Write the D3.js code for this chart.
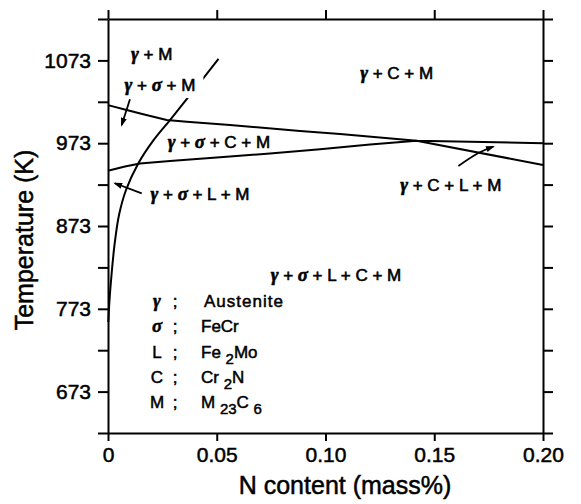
<!DOCTYPE html>
<html>
<head>
<meta charset="utf-8">
<script src="https://cdn.jsdelivr.net/npm/d3@7"></script>
<style>
  body { margin: 0; background: #fff; }
  svg text { font-family: "Liberation Sans", Arial, Helvetica, sans-serif; fill: #000; }
</style>
</head>
<body>
<svg id="chart" width="581" height="504"></svg>
<script>
// Calculated phase diagram: nitrogen content (mass%) vs temperature (K)

// Axis ticks
const xTicks = [0, 0.05, 0.10, 0.15, 0.20];
const xTickLabels = ["0", "0.05", "0.10", "0.15", "0.20"];
const yTicks = [623, 673, 723, 773, 823, 873, 923, 973, 1023, 1073, 1123];
const yTickLabels = [673, 773, 873, 973, 1073];

// Phase boundaries, [N mass%, T K]
const sigmaSolvus = [[0, 1019], [0.0086, 1013], [0.0162, 1008], [0.027, 1001], [0.0362, 999],
  [0.0561, 995], [0.0883, 987.7], [0.1067, 984.1], [0.1419, 976], [0.2, 973]];
const nitrideLine = [[0, 939.8], [0.0078, 944.9], [0.0147, 948.5], [0.0285, 951.5], [0.0515, 956],
  [0.0745, 960.6], [0.0975, 965.8], [0.1205, 971.4], [0.1419, 976], [0.2, 946.7]];
const sigmaBoundary = [[0.00014, 757.1], [0.00069, 783.6], [0.00161, 813.8], [0.00299, 850.1],
  [0.00506, 886.3], [0.00828, 916.5], [0.01379, 947.9], [0.02069, 975.7], [0.02851, 1001],
  [0.03954, 1037.3], [0.0508, 1074.7]];

// Phase field labels (centre N, baseline T)
const phaseLabels = ["γ + M", "γ + σ + M", "γ + σ + C + M", "γ + σ + L + M", "γ + C + M", "γ + C + L + M", "γ + σ + L + C + M"];
const phaseLabelN = [0.0201, 0.0239, 0.051, 0.0423, 0.1327, 0.1576, 0.1048];
const phaseLabelT = [1073.5, 1036, 966.6, 903.8, 1051.1, 915.3, 806.6];
const maskedLabel = "γ + σ + M";

// Pointer arrows from labels to narrow fields
const arrowPaths = [
  [[0.0101, 1026], [0.0063, 995]],
  [[0.0155, 912.5], [0.0032, 924.6]],
  [[0.1611, 945.5], [0.1695, 960], [0.1771, 968.8]]
];

// Key of phase symbols
const legendSymbols = ["γ", "σ", "L", "C", "M"];
const legendNames = [
  [["Austenite", false]],
  [["FeCr", false]],
  [["Fe ", false], ["2", true], ["Mo", false]],
  [["Cr ", false], ["2", true], ["N", false]],
  [["M ", false], ["23", true], ["C ", false], ["6", true]]
];

const svg = d3.select("#chart");
const x = d3.scaleLinear().domain([0, 0.2]).range([108, 543]);
const y = d3.scaleLinear().domain([623, 1123]).range([433, 19]);

const FONT = '"Liberation Sans", Arial, Helvetica, sans-serif';
const GREEK = '"Liberation Serif", "DejaVu Serif", serif';

function styleAxis(g, fontSize) {
  g.attr("font-family", FONT).attr("font-size", fontSize);
  g.selectAll("path.domain").attr("stroke", "#000").attr("stroke-width", 2);
  g.selectAll(".tick line").attr("stroke", "#000").attr("stroke-width", 2);
  g.selectAll(".tick text").attr("fill", "#000").attr("stroke", "#000").attr("stroke-width", 0.5);
}

// Bottom axis with labels
svg.append("g")
  .attr("transform", `translate(0,${y(623)})`)
  .call(d3.axisBottom(x).tickValues(xTicks).tickSize(8).tickSizeOuter(0).tickPadding(6)
    .tickFormat((d, i) => xTickLabels[i]))
  .call(g => styleAxis(g, 21));

// Top axis, ticks only
svg.append("g")
  .attr("transform", `translate(0,${y(1123)})`)
  .call(d3.axisTop(x).tickValues(xTicks).tickSize(9).tickSizeOuter(0).tickFormat(() => ""))
  .call(g => styleAxis(g, 21));

// Left axis with labels
svg.append("g")
  .attr("transform", `translate(${x(0)},0)`)
  .call(d3.axisLeft(y).tickValues(yTicks).tickSize(10).tickSizeOuter(0).tickPadding(7)
    .tickFormat(d => yTickLabels.includes(d) ? String(d) : ""))
  .call(g => styleAxis(g, 21));

// Right axis, ticks only
svg.append("g")
  .attr("transform", `translate(${x(0.2)},0)`)
  .call(d3.axisRight(y).tickValues(yTicks).tickSize(10).tickSizeOuter(0).tickFormat(() => ""))
  .call(g => styleAxis(g, 21));

// Axis titles
svg.append("text")
  .attr("x", 345).attr("y", 494)
  .attr("text-anchor", "middle")
  .attr("font-size", 25)
  .attr("stroke", "#000").attr("stroke-width", 0.5)
  .text("N content (mass%)");

svg.append("text")
  .attr("transform", "translate(33,240) rotate(-90)")
  .attr("text-anchor", "middle")
  .attr("font-size", 25)
  .attr("stroke", "#000").attr("stroke-width", 0.5)
  .text("Temperature (K)");

// Boundary lines
const straight = d3.line().x(d => x(d[0])).y(d => y(d[1]));
const smooth = d3.line().x(d => x(d[0])).y(d => y(d[1])).curve(d3.curveCatmullRom.alpha(0.5));

const lines = svg.append("g").attr("fill", "none").attr("stroke", "#000").attr("stroke-width", 2)
  .attr("stroke-linejoin", "round");
lines.append("path").attr("d", straight(sigmaSolvus));
lines.append("path").attr("d", straight(nitrideLine));
lines.append("path").attr("d", smooth(sigmaBoundary));

// Arrowhead
svg.append("defs").append("marker")
  .attr("id", "head")
  .attr("viewBox", "0 0 10 10")
  .attr("refX", 8).attr("refY", 5)
  .attr("markerWidth", 9).attr("markerHeight", 9)
  .attr("markerUnits", "userSpaceOnUse")
  .attr("orient", "auto")
  .append("path").attr("d", "M0,1.6 L10,5 L0,8.4 Z").attr("fill", "#000");

const arrowLine = d3.line().x(d => x(d[0])).y(d => y(d[1])).curve(d3.curveNatural);
svg.append("g").selectAll("path").data(arrowPaths).join("path")
  .attr("d", arrowLine)
  .attr("fill", "none").attr("stroke", "#000").attr("stroke-width", 1.8)
  .attr("marker-end", "url(#head)");

// Text with Greek letters set in a bold italic serif face
function richText(sel, str) {
  for (const ch of str.split(/([γσ])/)) {
    if (!ch) continue;
    const t = sel.append("tspan").text(ch);
    if (ch === "γ" || ch === "σ") {
      t.attr("font-family", GREEK).attr("font-style", "italic").attr("font-weight", "bold")
        .attr("font-size", "1.1em");
    }
  }
}

const labelLayer = svg.append("g");
phaseLabels.forEach((lab, i) => {
  const t = labelLayer.append("text")
    .attr("x", x(phaseLabelN[i])).attr("y", y(phaseLabelT[i]))
    .attr("text-anchor", "middle")
    .attr("font-size", 17)
    .attr("stroke", "#000").attr("stroke-width", 0.6);
  richText(t, lab);
  if (lab === maskedLabel) {
    // clear the boundary line behind this label
    const b = t.node().getBBox();
    labelLayer.insert("rect", () => t.node())
      .attr("x", b.x - 3).attr("y", b.y - 6)
      .attr("width", b.width + 11).attr("height", b.height + 9)
      .attr("fill", "#fff");
  }
});

// Key
const key = svg.append("g").attr("font-size", 17);
legendSymbols.forEach((s, i) => {
  const by = 307 + i * 25.3;
  const sym = key.append("text").attr("x", 157).attr("y", by).attr("text-anchor", "middle")
    .attr("stroke", "#000").attr("stroke-width", 0.5);
  richText(sym, s);
  key.append("text").attr("x", 175).attr("y", by).attr("text-anchor", "middle")
    .attr("stroke", "#000").attr("stroke-width", 0.5).text(";");
  const name = key.append("text").attr("x", i === 0 ? 204 : 201).attr("y", by)
    .attr("stroke", "#000").attr("stroke-width", 0.5);
  if (i === 0) name.attr("letter-spacing", 1);
  let shifted = false;
  legendNames[i].forEach(([txt, sub]) => {
    const ts = name.append("tspan").text(txt);
    if (sub) { ts.attr("font-size", 15); if (!shifted) { ts.attr("dy", 6); shifted = true; } }
    else if (shifted) { ts.attr("dy", -6); shifted = false; }
  });
});
</script>
</body>
</html>
